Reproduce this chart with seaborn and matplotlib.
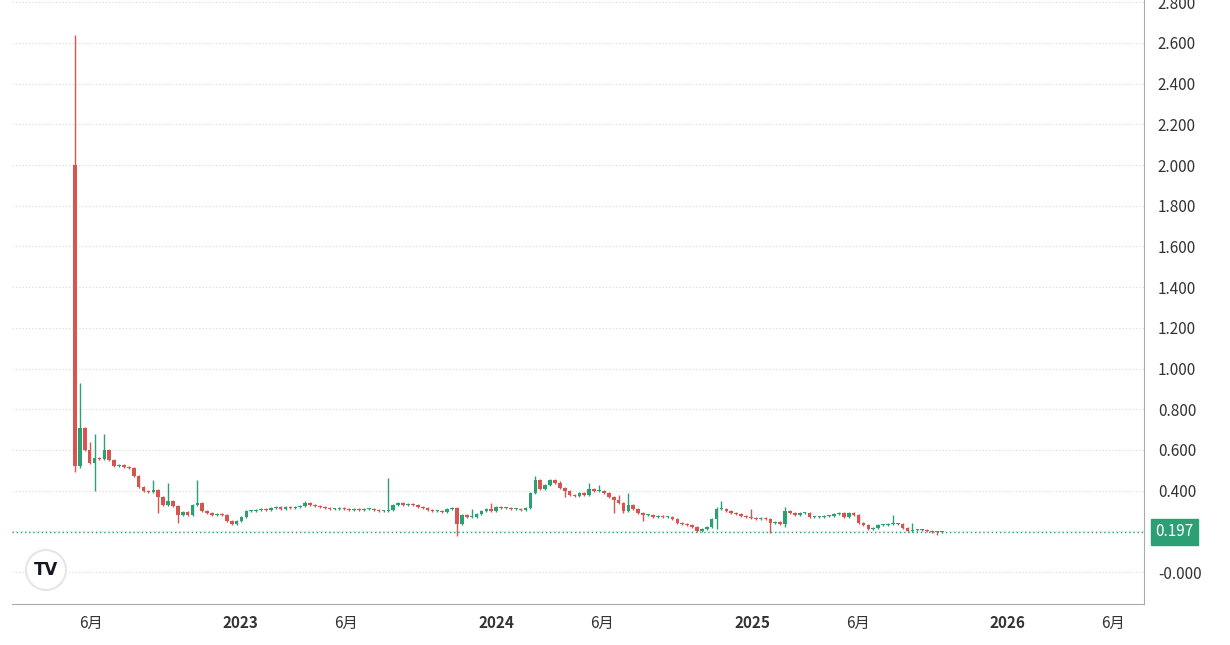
import matplotlib
matplotlib.use("Agg")
import matplotlib.pyplot as plt
import matplotlib.dates as mdates
from matplotlib.patches import Ellipse
import seaborn as sns
import numpy as np
import pandas as pd

start_date = "2022-05-09"
first_open = 2.0
closes = [
    0.52, 0.71, 0.60, 0.535, 0.56, 0.555, 0.60, 0.55, 0.52, 0.525, 0.515, 0.51,
    0.47, 0.42, 0.40, 0.395, 0.405, 0.37, 0.33, 0.35, 0.325, 0.28, 0.295, 0.28,
    0.33, 0.34, 0.30, 0.29, 0.28, 0.285, 0.28, 0.25, 0.235, 0.25, 0.27, 0.30,
    0.30, 0.305, 0.31, 0.305, 0.315, 0.32, 0.31, 0.32, 0.315, 0.32, 0.325, 0.34,
    0.33, 0.325, 0.32, 0.315, 0.31, 0.31, 0.315, 0.31, 0.305, 0.31, 0.305, 0.31,
    0.31, 0.305, 0.30, 0.30,
    0.305, 0.33, 0.34, 0.33, 0.335, 0.33, 0.32, 0.315, 0.305, 0.30, 0.30, 0.295,
    0.31, 0.315, 0.235,
    0.28, 0.27, 0.27, 0.285, 0.30, 0.31, 0.30, 0.32, 0.315, 0.315, 0.31, 0.31,
    0.305, 0.315, 0.39, 0.45, 0.41, 0.43, 0.45, 0.44, 0.415, 0.40, 0.38, 0.375,
    0.39, 0.38, 0.41, 0.40, 0.40, 0.39, 0.37, 0.355, 0.34, 0.30, 0.33, 0.31,
    0.29, 0.28, 0.28, 0.27, 0.275, 0.27, 0.27, 0.26, 0.24, 0.235, 0.23, 0.22,
    0.20, 0.21, 0.22, 0.26, 0.31, 0.31, 0.30, 0.29, 0.285, 0.275, 0.27, 0.265,
    0.26, 0.265, 0.26, 0.24, 0.245, 0.235, 0.30, 0.29, 0.28, 0.29, 0.29, 0.27,
    0.27, 0.27, 0.275, 0.275, 0.285, 0.29, 0.27, 0.29, 0.28, 0.24, 0.23, 0.21,
    0.215, 0.23, 0.23, 0.235, 0.235, 0.235, 0.215, 0.20, 0.205, 0.205, 0.205, 0.20,
    0.198, 0.195, 0.197,
]
high_marks = {0: 2.64, 1: 0.93, 3: 0.64, 4: 0.68, 6: 0.68, 16: 0.45, 19: 0.44,
              25: 0.45, 47: 0.35, 64: 0.46, 81: 0.31, 85: 0.34, 94: 0.47,
              105: 0.44, 107: 0.43, 111: 0.38, 113: 0.39, 131: 0.32, 132: 0.35,
              138: 0.31, 145: 0.32, 167: 0.28, 171: 0.24}
low_marks = {0: 0.49, 1: 0.51, 4: 0.40, 17: 0.29, 21: 0.24, 78: 0.175, 100: 0.37,
             110: 0.29, 112: 0.29, 116: 0.25, 131: 0.21, 142: 0.19, 145: 0.22,
             176: 0.18}
last_price = 0.197

x_ticks = ["2022-06-01", "2023-01-01", "2023-06-01", "2024-01-01", "2024-06-01",
           "2025-01-01", "2025-06-01", "2026-01-01", "2026-06-01"]
x_tick_labels = ["6月", "2023", "6月", "2024", "6月", "2025", "6月", "2026", "6月"]
y_ticks = [0.0, 0.2, 0.4, 0.6, 0.8, 1.0, 1.2, 1.4, 1.6, 1.8, 2.0, 2.2, 2.4, 2.6, 2.8]

sns.set_style("white")
plt.rcParams['font.family'] = ['Noto Sans CJK SC', 'DejaVu Sans']

dates = pd.date_range(start_date, periods=len(closes), freq="7D")
opens = [first_open] + closes[:-1]
df = pd.DataFrame({"date": dates, "open": opens, "close": closes})
df["high"] = [high_marks.get(i, max(o, c) + 0.005) for i, (o, c) in enumerate(zip(opens, closes))]
df["low"] = [low_marks.get(i, min(o, c) - 0.005) for i, (o, c) in enumerate(zip(opens, closes))]
UP, DOWN = "#2c9f74", "#d9534f"
df["color"] = np.where(df["close"] >= df["open"], UP, DOWN)

fig = plt.figure(figsize=(12.3, 6.45), dpi=100)
ax = fig.add_axes([12/1230, 41/645, (1144-12)/1230, 604/645])
xn = mdates.date2num(df["date"])
ax.vlines(xn, df["low"], df["high"], colors=df["color"], linewidth=1)
body = (df["close"] - df["open"]).abs().clip(lower=0.005)
ax.bar(xn, body, bottom=np.minimum(df["open"], df["close"]), width=5.2,
       color=df["color"], linewidth=0)

ax.axhline(last_price, color=UP, linestyle=(0, (1, 2)), linewidth=1)
ax.set_xlim(mdates.date2num(pd.Timestamp("2022-02-08")), mdates.date2num(pd.Timestamp("2026-07-15")))
ax.set_ylim(-0.157, 2.811)
ax.set_yticks(y_ticks)
ax.set_yticklabels(["-0.000" if v == 0 else ("" if abs(v - 0.2) < 1e-9 else f"{v:.3f}") for v in y_ticks])
ax.yaxis.tick_right()
ax.tick_params(axis="y", length=0, labelsize=11, colors="#333333", pad=10)
ax.set_xticks(mdates.date2num(pd.to_datetime(x_ticks)))
ax.set_xticklabels(x_tick_labels)
ax.tick_params(axis="x", length=0, labelsize=11, colors="#333333", pad=8)
for lbl in ax.get_xticklabels():
    if lbl.get_text().isdigit():
        lbl.set_fontweight("bold")
ax.grid(True, axis="y", color="#d8d8d8", linestyle=(0, (1, 2)), linewidth=0.8)
ax.grid(False, axis="x")
for s in ["top", "left"]:
    ax.spines[s].set_visible(False)
ax.spines["right"].set_color("#aaaaaa")
ax.spines["bottom"].set_color("#aaaaaa")

ax.annotate(f"{last_price:.3f}", xy=(1.0, last_price), xycoords=("axes fraction", "data"),
            xytext=(8, 0), textcoords="offset points", va="center", ha="left",
            fontsize=11, color="white",
            bbox=dict(boxstyle="square,pad=0.3", fc=UP, ec=UP))

cx, cy = 46/1230, (645-570)/645
fig.patches.append(Ellipse((cx, cy), 40/1230, 40/645, transform=fig.transFigure,
                           fc="white", ec="#e6e6e6", lw=1.5))
fig.text(cx, cy, "TV", ha="center", va="center", fontsize=12,
         fontweight="bold", color="#131722", family="DejaVu Sans")

fig.savefig("out.png", dpi=100)
